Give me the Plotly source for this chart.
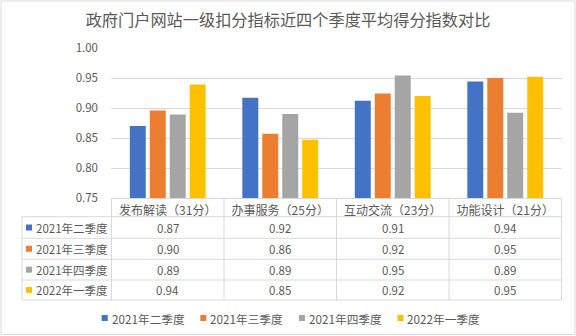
import plotly.graph_objects as go

categories = ["发布解读（31分）", "办事服务（25分）", "互动交流（23分）", "功能设计（21分）"]
series_names = ["2021年二季度", "2021年三季度", "2021年四季度", "2022年一季度"]
q2_2021 = [0.870, 0.917, 0.912, 0.944]
q3_2021 = [0.896, 0.857, 0.924, 0.950]
q4_2021 = [0.889, 0.890, 0.954, 0.892]
q1_2022 = [0.939, 0.847, 0.920, 0.952]
y_ticks = [0.75, 0.80, 0.85, 0.90, 0.95, 1.00]
colors = ["#4472C4", "#ED7D31", "#A5A5A5", "#FFC000"]
title_text = "政府门户网站一级扣分指标近四个季度平均得分指数对比"

series_values = [q2_2021, q3_2021, q4_2021, q1_2022]

W, H = 576, 336
ML, MR, MT, MB = 111, 14, 48, 138
PW = W - ML - MR
PH = H - MT - MB
TXT = "#595959"
GRID = "#D9D9D9"
FONT = "Noto Sans CJK SC, Noto Sans, sans-serif"


def px(x):
    return (x - ML) / PW


def py(y):
    return (MT + PH - y) / PH


fig = go.Figure()
for name, vals, c in zip(series_names, series_values, colors):
    fig.add_trace(go.Bar(x=categories, y=vals, name=name, marker_color=c,
                         marker_line_width=0, showlegend=False))

shapes = []
annotations = []

# data table under the axis
row_lines = [216.7, 238.3, 259.3, 280.0, 300.0]
table_left = 22
for yl in row_lines:
    shapes.append(dict(type="line", xref="paper", yref="paper",
                       x0=px(table_left), x1=1, y0=py(yl), y1=py(yl),
                       line=dict(color=GRID, width=1)))
for i in range(len(categories) + 1):
    shapes.append(dict(type="line", xref="x", yref="paper",
                       x0=i - 0.5, x1=i - 0.5, y0=0, y1=py(row_lines[-1]),
                       line=dict(color=GRID, width=1)))
shapes.append(dict(type="line", xref="paper", yref="paper",
                   x0=px(table_left), x1=px(table_left),
                   y0=py(row_lines[0]), y1=py(row_lines[-1]),
                   line=dict(color=GRID, width=1)))

for r, (name, vals, c) in enumerate(zip(series_names, series_values, colors)):
    yc = (row_lines[r] + row_lines[r + 1]) / 2
    shapes.append(dict(type="rect", xref="paper", yref="paper",
                       x0=px(26), x1=px(32), y0=py(yc + 3), y1=py(yc - 3),
                       fillcolor=c, line=dict(width=0)))
    annotations.append(dict(xref="paper", yref="paper", x=px(34), y=py(yc),
                            xanchor="left", yanchor="middle", showarrow=False,
                            text=name, font=dict(size=11.5, color=TXT, family=FONT)))
    for i, v in enumerate(vals):
        annotations.append(dict(xref="x", yref="paper", x=i, y=py(yc),
                                xanchor="center", yanchor="middle", showarrow=False,
                                text=f"{v:.2f}", font=dict(size=11.5, color=TXT, family=FONT)))

# bottom legend
leg_y = 318
leg_x0 = 101.7
leg_step = 98.6
for k, (name, c) in enumerate(zip(series_names, colors)):
    lx = leg_x0 + k * leg_step
    shapes.append(dict(type="rect", xref="paper", yref="paper",
                       x0=px(lx), x1=px(lx + 6), y0=py(leg_y + 3), y1=py(leg_y - 3),
                       fillcolor=c, line=dict(width=0)))
    annotations.append(dict(xref="paper", yref="paper", x=px(lx + 8), y=py(leg_y),
                            xanchor="left", yanchor="middle", showarrow=False,
                            text=name, font=dict(size=11.7, color=TXT, family=FONT)))

# outer border
shapes.append(dict(type="rect", xref="paper", yref="paper",
                   x0=px(1), x1=px(575), y0=py(334.5), y1=py(1),
                   line=dict(color=GRID, width=1), fillcolor="rgba(0,0,0,0)"))

fig.update_layout(
    width=W, height=H,
    margin=dict(l=ML, r=MR, t=MT, b=MB, pad=0),
    paper_bgcolor="white", plot_bgcolor="white",
    font=dict(family=FONT, color=TXT, size=12),
    title=dict(text=title_text, xref="paper", x=(288 - ML) / PW, xanchor="center",
               y=1 - 20 / H, yref="container", yanchor="middle",
               font=dict(size=16.2, color=TXT, family=FONT)),
    barmode="group", bargap=0.29, bargroupgap=0.2,
    showlegend=False,
    shapes=shapes, annotations=annotations,
)
fig.update_xaxes(showline=True, linecolor=GRID, linewidth=1, showgrid=False,
                 ticks="", tickfont=dict(size=12, color=TXT, family=FONT),
                 ticklabelstandoff=2, fixedrange=True)
fig.update_yaxes(range=[0.75, 1.0], tickvals=y_ticks, ticktext=[f"{t:.2f}" for t in y_ticks],
                 showgrid=True, gridcolor=GRID, gridwidth=1, zeroline=False,
                 showline=False, ticks="", tickfont=dict(size=11.5, color=TXT, family=FONT),
                 ticklabelstandoff=12, fixedrange=True)

fig.write_html("out.html")
